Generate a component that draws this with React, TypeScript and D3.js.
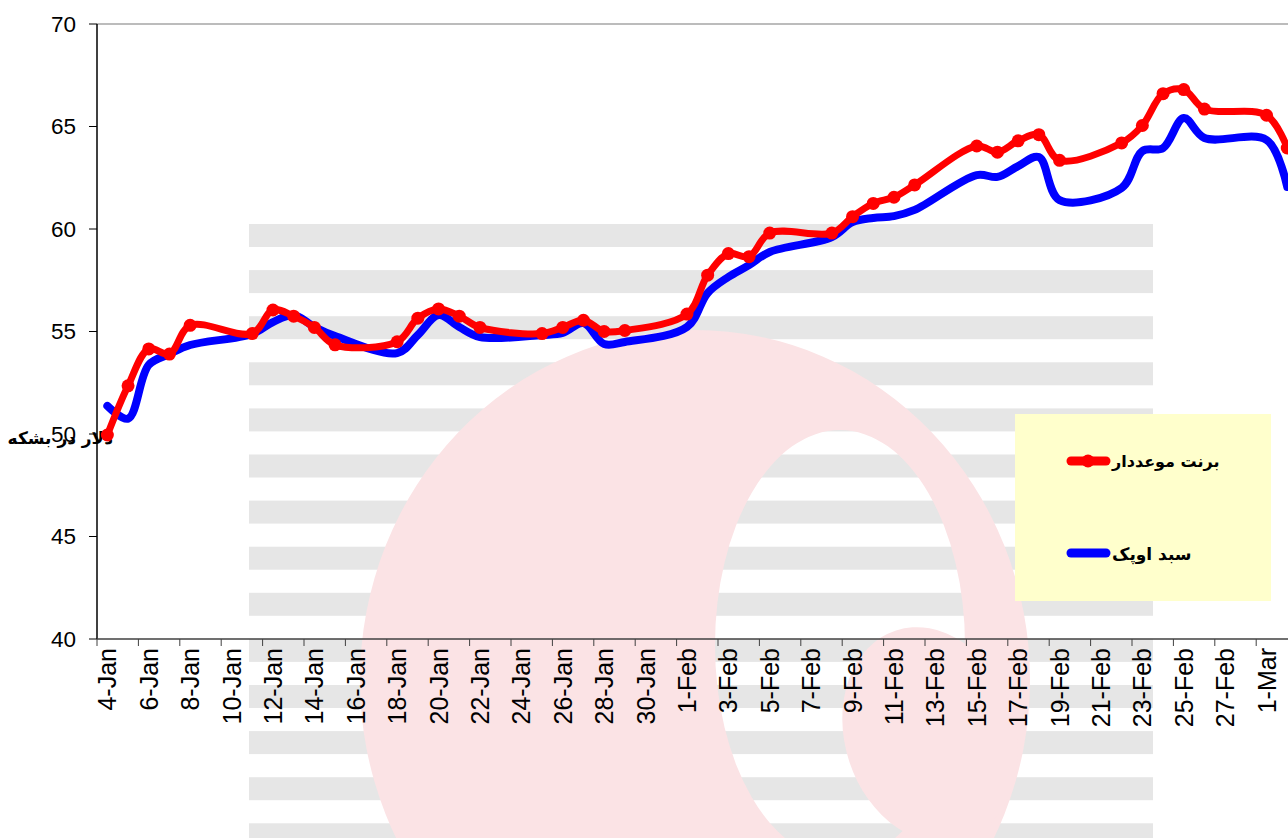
import React from 'react';
import * as d3 from 'd3';

// ---------- data ----------
const tradingDays = [
  '2021-01-04','2021-01-05','2021-01-06','2021-01-07','2021-01-08',
  '2021-01-11','2021-01-12','2021-01-13','2021-01-14','2021-01-15',
  '2021-01-18','2021-01-19','2021-01-20','2021-01-21','2021-01-22',
  '2021-01-25','2021-01-26','2021-01-27','2021-01-28','2021-01-29',
  '2021-02-01','2021-02-02','2021-02-03','2021-02-04','2021-02-05',
  '2021-02-08','2021-02-09','2021-02-10','2021-02-11','2021-02-12',
  '2021-02-15','2021-02-16','2021-02-17','2021-02-18','2021-02-19',
  '2021-02-22','2021-02-23','2021-02-24','2021-02-25','2021-02-26',
  '2021-03-01','2021-03-02',
];

const brent = [
  49.95, 52.35, 54.15, 53.9, 55.3,
  54.9, 56.05, 55.75, 55.2, 54.35,
  54.5, 55.65, 56.1, 55.75, 55.2,
  54.9, 55.2, 55.55, 55.0, 55.05,
  55.85, 57.75, 58.8, 58.65, 59.8,
  59.8, 60.6, 61.25, 61.55, 62.15,
  64.05, 63.75, 64.3, 64.6, 63.35,
  64.2, 65.05, 66.6, 66.8, 65.85,
  65.55, 63.95,
];

const opec = [
  51.37, 50.75, 53.37, 53.9, 54.34,
  54.88, 55.46, 55.8, 55.22, 54.78,
  53.95, 54.83, 55.8, 55.22, 54.73,
  54.83, 54.93, 55.41, 54.39, 54.49,
  55.22, 56.88, 57.66, 58.24, 58.88,
  59.61, 60.34, 60.54, 60.63, 60.93,
  62.63, 62.54, 63.07, 63.51, 61.41,
  62.0, 63.8, 63.95, 65.41, 64.44,
  64.34, 62.05,
];

const tickLabels = [
  '4-Jan','6-Jan','8-Jan','10-Jan','12-Jan','14-Jan','16-Jan','18-Jan','20-Jan',
  '22-Jan','24-Jan','26-Jan','28-Jan','30-Jan','1-Feb','3-Feb','5-Feb','7-Feb',
  '9-Feb','11-Feb','13-Feb','15-Feb','17-Feb','19-Feb','21-Feb','23-Feb',
  '25-Feb','27-Feb','1-Mar',
];
const yTicks = [40, 45, 50, 55, 60, 65, 70];

const seriesNames = ['برنت موعددار', 'سبد اوپک'];
const yTitle = 'دلار در بشکه';
const chartYear = '2021';

// ---------- layout ----------
const W = 1288;
const H = 838;
const left = 97;
const top = 24;
const bottom = 639;
const dayPx = 20.7;
const latin = '"Liberation Sans", Arial, sans-serif';
const arabic = '"DejaVu Sans", "Liberation Sans", sans-serif';

export default function App() {
  const parseIso = d3.timeParse('%Y-%m-%d');
  const parseTick = d3.timeParse('%d-%b-%Y');
  const start = parseIso(tradingDays[0]) as Date;
  const dayIdx = (d: Date) => d3.timeDay.count(start, d);

  const x = d3.scaleLinear().domain([0, 1]).range([left, left + dayPx]);
  const y = d3.scaleLinear().domain([40, 70]).range([bottom, top]);

  const pts = (vals: number[]) =>
    tradingDays.map((s, i) => [x(dayIdx(parseIso(s) as Date) + 0.5), y(vals[i])] as [number, number]);

  const brentPts = pts(brent);
  const opecPts = pts(opec);
  const line = d3.line().curve(d3.curveCatmullRom.alpha(0.5));

  const ticks = tickLabels.map((l) => ({ label: l, d: dayIdx(parseTick(l + '-' + chartYear) as Date) }));

  // watermark stripes
  const stripes = d3.range(14).map((k) => 224 + k * 46.1);

  const ellipsePath = (cx: number, cy: number, rx: number, ry: number) =>
    `M${cx - rx},${cy} a${rx},${ry} 0 1,0 ${2 * rx},0 a${rx},${ry} 0 1,0 ${-2 * rx},0 Z`;

  return (
    <svg width={W} height={H} style={{ position: 'absolute', left: 0, top: 0, background: '#fff' }}>
      <rect x={0} y={0} width={W} height={H} fill="#fff" />
      {/* watermark */}
      <g>
        {stripes.map((s, i) => (
          <rect key={i} x={249} y={s} width={904} height={23} fill="#E6E6E6" />
        ))}
        <path
          d={ellipsePath(695, 680, 335, 350) + ' ' + ellipsePath(840, 645, 125, 215)}
          fill="#FBE3E5"
          fillRule="evenodd"
        />
        <ellipse cx={930} cy={735} rx={85} ry={110} fill="#FBE3E5" transform="rotate(-18 930 735)" />
      </g>

      {/* top border */}
      <line x1={left} x2={W} y1={top} y2={top} stroke="#A6A6A6" strokeWidth={1.5} />

      {/* y axis */}
      <line x1={left} x2={left} y1={top} y2={bottom} stroke="#000" strokeWidth={1.5} />
      {yTicks.map((t) => (
        <g key={t}>
          <line x1={left - 8} x2={left} y1={y(t)} y2={y(t)} stroke="#000" strokeWidth={1} />
          <text x={76} y={y(t)} textAnchor="end" dominantBaseline="central" fontFamily={latin} fontSize={22.5} fill="#000">
            {t}
          </text>
        </g>
      ))}
      <text x={113} y={444} textAnchor="end" fontFamily={arabic} fontWeight="bold" fontSize={17} fill="#000">
        {yTitle}
      </text>

      {/* x axis */}
      <line x1={left} x2={W} y1={bottom} y2={bottom} stroke="#404040" strokeWidth={1.5} />
      {d3.range(0, 60, 2).map((d) => (
        <line key={d} x1={x(d)} x2={x(d)} y1={bottom} y2={bottom + 7} stroke="#404040" strokeWidth={1} />
      ))}
      {ticks.map((t) => (
        <text
          key={t.label}
          transform={`translate(${x(t.d + 0.5)},${bottom + 9}) rotate(-90)`}
          textAnchor="end"
          dominantBaseline="central"
          fontFamily={latin}
          fontSize={25}
          fill="#000"
        >
          {t.label}
        </text>
      ))}

      {/* series */}
      <path d={line(opecPts) || ''} fill="none" stroke="#0000FF" strokeWidth={8} strokeLinejoin="round" strokeLinecap="round" />
      <path d={line(brentPts) || ''} fill="none" stroke="#FF0000" strokeWidth={7} strokeLinejoin="round" strokeLinecap="round" />
      {brentPts.map((p, i) => (
        <circle key={i} cx={p[0]} cy={p[1]} r={6.5} fill="#FF0000" />
      ))}

      {/* legend */}
      <rect x={1015} y={414} width={256} height={187} fill="#FFFFCC" />
      <line x1={1071} x2={1106} y1={461} y2={461} stroke="#FF0000" strokeWidth={9} strokeLinecap="round" />
      <circle cx={1088} cy={461} r={6.5} fill="#FF0000" />
      <text x={1112} y={467} textAnchor="start" fontFamily={arabic} fontWeight="bold" fontSize={16} fill="#000">
        {seriesNames[0]}
      </text>
      <line x1={1071} x2={1106} y1={553} y2={553} stroke="#0000FF" strokeWidth={9} strokeLinecap="round" />
      <text x={1112} y={560} textAnchor="start" fontFamily={arabic} fontWeight="bold" fontSize={17} fill="#000">
        {seriesNames[1]}
      </text>
    </svg>
  );
}
